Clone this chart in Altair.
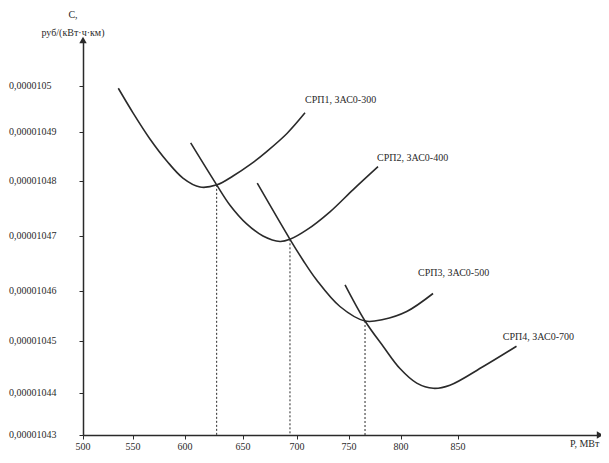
import altair as alt
import pandas as pd

# ---- data (C in units of 1e-8 руб/(кВт·ч·км), P in МВт) ----
curve_names = ["СРП1, ЗАС0-300", "СРП2, ЗАС0-400", "СРП3, ЗАС0-500", "СРП4, ЗАС0-700"]

c1_p = [535.3, 550, 566.3, 582.7, 598, 613, 627.6, 641.4, 656.5, 672.2, 690.7, 707.7]
c1_c = [1049.95, 1049.41, 1048.85, 1048.4, 1048.06, 1047.89, 1047.93, 1048.1, 1048.33, 1048.6, 1048.96, 1049.41]

c2_p = [604.9, 627.3, 638.8, 653.4, 668.5, 684.3, 693.5, 709.3, 731.7, 753.8, 777.9]
c2_c = [1048.77, 1047.93, 1047.56, 1047.22, 1047.0, 1046.9, 1046.94, 1047.11, 1047.44, 1047.84, 1048.29]

c3_p = [663.2, 693.5, 705.8, 718.9, 741.3, 765.4, 782.7, 805, 828.1]
c3_c = [1047.96, 1046.94, 1046.56, 1046.2, 1045.69, 1045.4, 1045.43, 1045.59, 1045.95]

c4_p = [746.2, 765.4, 783.1, 799, 813.8, 828.3, 842.9, 872.2, 901.5]
c4_c = [1046.11, 1045.4, 1044.89, 1044.47, 1044.19, 1044.09, 1044.15, 1044.51, 1044.9]

# intersection points (dashed drop lines)
cross_p = [627.3, 693.5, 765.4]
cross_c = [1047.93, 1046.94, 1045.4]

# curve label anchors
label_p = [707.7, 776.9, 814.9, 889.5]
label_c = [1049.69, 1048.46, 1046.33, 1045.08]

y_ticks = [1043, 1044, 1045, 1046, 1047, 1048, 1049, 1050]
y_tick_labels = ["0,00001043", "0,00001044", "0,00001045", "0,00001046",
                 "0,00001047", "0,00001048", "0,00001049", "0,0000105"]
x_ticks = [500, 550, 600, 650, 700, 750, 800, 850]
x_tick_labels = ["500", "550", "600", "650", "700", "750", "800", "850"]

# ---- scales (hand-drawn axis: piecewise linear) ----
x_scale = alt.Scale(domain=[500, 550, 600, 650, 700, 750, 800, 850, 975],
                    range=[0, 50, 102, 160, 214, 266, 318, 375, 517], nice=False, zero=False)
y_scale = alt.Scale(domain=[1043, 1044, 1045, 1046, 1047, 1048, 1049, 1050, 1051],
                    range=[395, 353, 301, 251, 196, 141, 91.5, 46, 0], nice=False, zero=False)

rows = []
for name, ps, cs in zip(curve_names, [c1_p, c2_p, c3_p, c4_p], [c1_c, c2_c, c3_c, c4_c]):
    for i, (p, c) in enumerate(zip(ps, cs)):
        rows.append({"curve": name, "P": p, "C": c, "i": i})
curves_df = pd.DataFrame(rows)

drop_df = pd.DataFrame({"P": cross_p, "C": cross_c, "C0": [1043] * len(cross_p)})
lab_df = pd.DataFrame({"P": label_p, "C": label_c, "name": curve_names})
yt_df = pd.DataFrame({"C": y_ticks, "t": y_tick_labels})
xt_df = pd.DataFrame({"P": x_ticks, "t": x_tick_labels})

FONT = "Liberation Serif"
INK = "#2a2a2a"

X = alt.X("P:Q", scale=x_scale, axis=alt.Axis(values=x_ticks, labels=False, title=None, grid=False,
                                               domainColor=INK, domainWidth=1.5, tickColor=INK, tickSize=4))
Y = alt.Y("C:Q", scale=y_scale, axis=alt.Axis(values=y_ticks, labels=False, title=None, grid=False,
                                               domainColor=INK, domainWidth=1.5, tickColor=INK, tickSize=4))

lines = alt.Chart(curves_df).mark_line(interpolate="catmull-rom", color=INK, strokeWidth=1.6).encode(
    x=X, y=Y, detail="curve:N", order="i:Q")

drops = alt.Chart(drop_df).mark_rule(color=INK, strokeDash=[2, 2], strokeWidth=1).encode(
    x=alt.X("P:Q", scale=x_scale), y=alt.Y("C:Q", scale=y_scale), y2="C0:Q")

labels = alt.Chart(lab_df).mark_text(font=FONT, fontSize=10, color=INK, align="left", baseline="middle").encode(
    x=alt.X("P:Q", scale=x_scale), y=alt.Y("C:Q", scale=y_scale), text="name:N")

ytext = alt.Chart(yt_df).mark_text(font=FONT, fontSize=10, color=INK, align="left", baseline="middle").encode(
    x=alt.value(-74), y=alt.Y("C:Q", scale=y_scale), text="t:N")

xtext = alt.Chart(xt_df).mark_text(font=FONT, fontSize=10, color=INK, align="center", baseline="middle").encode(
    x=alt.X("P:Q", scale=x_scale), y=alt.value(407), text="t:N")

arrow_df = pd.DataFrame({"P": [500, 975], "C": [1051, 1043], "shape": ["triangle-up", "triangle-right"]})
arrows = alt.Chart(arrow_df).mark_point(filled=True, color=INK, size=55, opacity=1).encode(
    x=alt.X("P:Q", scale=x_scale), y=alt.Y("C:Q", scale=y_scale),
    shape=alt.Shape("shape:N", scale=None))

titles_df = pd.DataFrame({"t": ["С,", "руб/(кВт·ч·км)", "P, МВт"],
                          "px": [-10, -10, 487], "py": [-25, -7, 404]})
t1 = alt.Chart(titles_df.iloc[:2]).mark_text(font=FONT, fontSize=10, color=INK, align="center").encode(
    x=alt.X("px:Q", scale=None), y=alt.Y("py:Q", scale=None), text="t:N")
t2 = alt.Chart(titles_df.iloc[2:]).mark_text(font=FONT, fontSize=10, color=INK, align="left").encode(
    x=alt.X("px:Q", scale=None), y=alt.Y("py:Q", scale=None), text="t:N")

chart = alt.layer(lines, drops, labels, ytext, xtext, arrows, t1, t2).properties(
    width=517, height=395,
    padding={"left": 75, "top": 32, "right": 1, "bottom": 20},
    autosize=alt.AutoSizeParams(type="none"),
    background="white",
).configure_view(stroke=None)

chart.save("out.html", embed_options={"renderer": "svg", "actions": False})
